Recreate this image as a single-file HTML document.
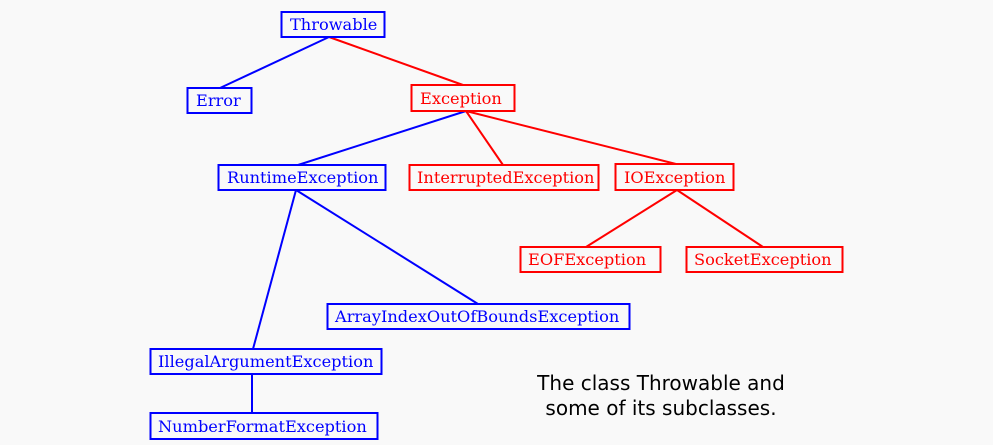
<!DOCTYPE html>
<html><head><style>
html,body{margin:0;padding:0;background:#f9f9f9;width:993px;height:445px;overflow:hidden}
svg text{font-family:"DejaVu Serif","Liberation Serif",serif;font-size:16.2px}
</style></head><body>
<svg width="993" height="445" xmlns="http://www.w3.org/2000/svg">
<g stroke-width="2" fill="none">
<line x1="329" y1="37" x2="220" y2="88" stroke="#00f"/>
<line x1="329" y1="37" x2="463" y2="85" stroke="#f00"/>
<line x1="466" y1="111" x2="298" y2="165" stroke="#00f"/>
<line x1="466" y1="111" x2="503" y2="165" stroke="#f00"/>
<line x1="466" y1="111" x2="676" y2="164" stroke="#f00"/>
<line x1="677" y1="190" x2="586" y2="247" stroke="#f00"/>
<line x1="677" y1="190" x2="763" y2="247" stroke="#f00"/>
<line x1="296" y1="190" x2="253" y2="349" stroke="#00f"/>
<line x1="296" y1="190" x2="478" y2="304" stroke="#00f"/>
<line x1="252" y1="374" x2="252" y2="413" stroke="#00f"/>
<rect x="281.5" y="12" width="103" height="25" stroke="#00f" fill="#f9f9f9"/>
<rect x="187.5" y="88" width="64" height="25" stroke="#00f" fill="#f9f9f9"/>
<rect x="411.5" y="85" width="103" height="26" stroke="#f00" fill="#f9f9f9"/>
<rect x="218.5" y="165" width="167" height="25" stroke="#00f" fill="#f9f9f9"/>
<rect x="409.5" y="165" width="189" height="25" stroke="#f00" fill="#f9f9f9"/>
<rect x="615.5" y="164" width="118" height="26" stroke="#f00" fill="#f9f9f9"/>
<rect x="520.5" y="247" width="140" height="25" stroke="#f00" fill="#f9f9f9"/>
<rect x="686.5" y="247" width="156" height="25" stroke="#f00" fill="#f9f9f9"/>
<rect x="327.5" y="304" width="302" height="25" stroke="#00f" fill="#f9f9f9"/>
<rect x="150.5" y="349" width="231" height="25" stroke="#00f" fill="#f9f9f9"/>
<rect x="150.5" y="413" width="227" height="26" stroke="#00f" fill="#f9f9f9"/>
</g>
<g fill="#00f">
<text x="290" y="30">Throwable</text>
<text x="196" y="106">Error</text>
<text x="227" y="183">RuntimeException</text>
<text x="335" y="322">ArrayIndexOutOfBoundsException</text>
<text x="158" y="367">IllegalArgumentException</text>
<text x="158" y="432">NumberFormatException</text>
</g>
<g fill="#f00">
<text x="420" y="104">Exception</text>
<text x="417" y="183">InterruptedException</text>
<text x="624" y="183">IOException</text>
<text x="528" y="265">EOFException</text>
<text x="694" y="265">SocketException</text>
</g>
<g fill="#000" text-anchor="middle">
<text x="661" y="390" style="font-family:'DejaVu Sans','Liberation Sans',sans-serif;font-size:20px">The class Throwable and</text>
<text x="661" y="415" style="font-family:'DejaVu Sans','Liberation Sans',sans-serif;font-size:20px">some of its subclasses.</text>
</g>
</svg>
</body></html>
